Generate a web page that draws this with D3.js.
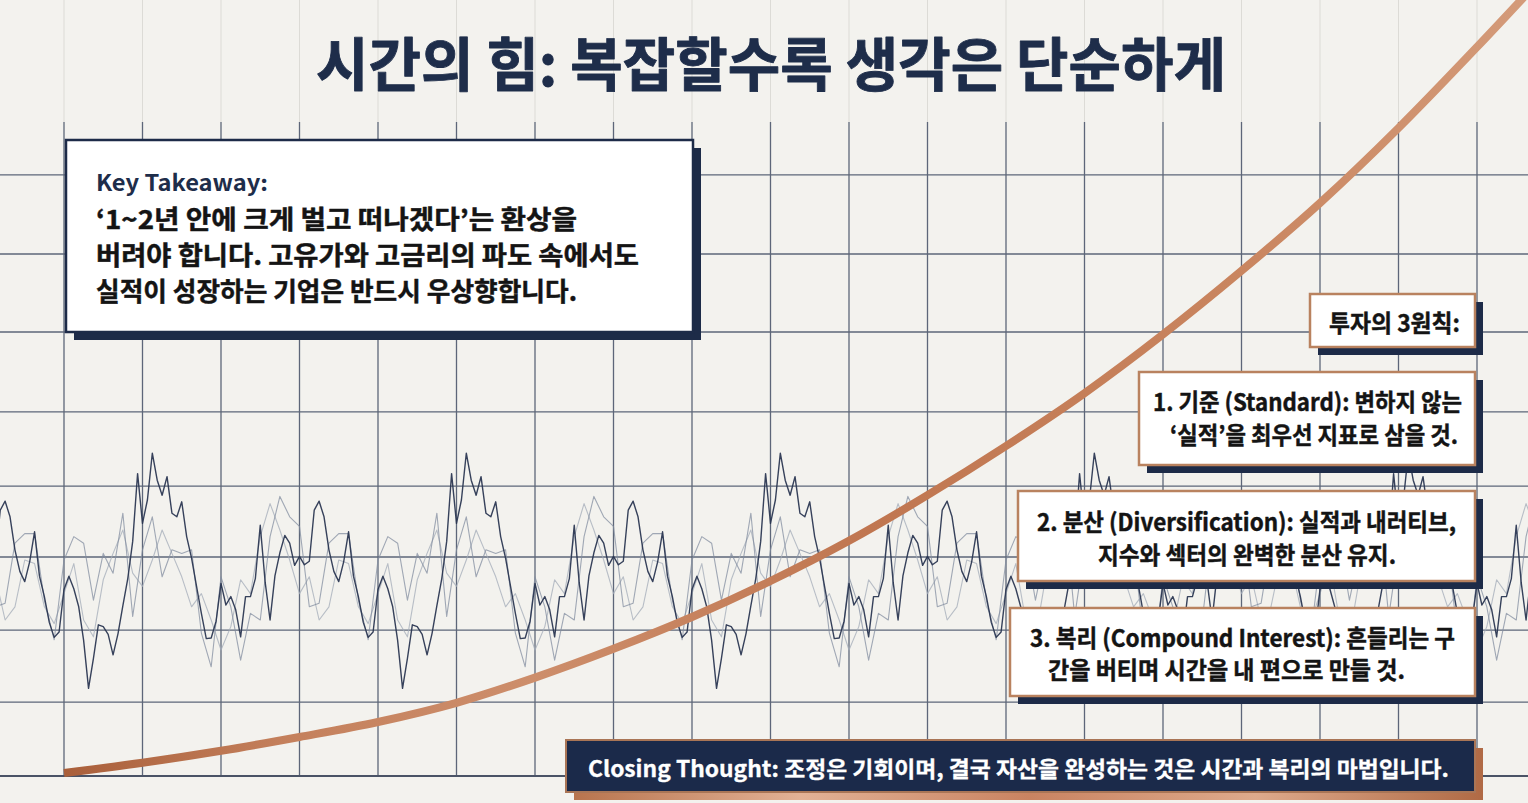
<!DOCTYPE html>
<html><head><meta charset="utf-8">
<script src="https://cdn.jsdelivr.net/npm/d3@7"></script>
<style>html,body{margin:0;padding:0;background:#f3f2ee;overflow:hidden}svg{display:block}</style>
</head><body>
<svg id="chart" width="1528" height="803"></svg>
<script>
// ---------------- DATA ----------------
const titleText = "시간의 힘: 복잡할수록 생각은 단순하게";
const keyHeading = "Key Takeaway:";
const keyLines = [
  "‘1~2년 안에 크게 벌고 떠나겠다’는 환상을",
  "버려야 합니다. 고유가와 고금리의 파도 속에서도",
  "실적이 성장하는 기업은 반드시 우상향합니다."
];
const principlesHeading = "투자의 3원칙:";
const principleLines = [
  ["1. 기준 (Standard): 변하지 않는", "‘실적’을 최우선 지표로 삼을 것."],
  ["2. 분산 (Diversification): 실적과 내러티브,", "지수와 섹터의 완벽한 분산 유지."],
  ["3. 복리 (Compound Interest): 흔들리는 구", "간을 버티며 시간을 내 편으로 만들 것."]
];
const closingText = "Closing Thought: 조정은 기회이며, 결국 자산을 완성하는 것은 시간과 복리의 마법입니다.";

// grid ticks (years on x, index level on y)
const gridYears = [0,1,2,3,4,5,6,7,8,9,10,11,12,13,14,15,16,17,18];
const gridLevels = [0, 12.3, 24.3, 36.5, 48.3, 60.7, 74.0, 87.0, 100.2];

// compound growth curve (year, value)
const curveYears = [0,1,2,3,4,5,6,7,8,9,10,11,12,13,14,15,16,17,18,19];
const curveValues = [0.5,2.2,4.2,6.5,9.0,12.2,16.4,21.2,26.5,32.5,39.2,46.8,55.0,63.8,73.6,84.2,95.5,108.0,121.5,135.5];

// volatile price series, sampled from year -0.875
const waveStartYear = -0.875;
const darkStep = 1/16;
const darkValues = [
35.8,44.3,45.8,43.2,37.7,34.1,32.4,35.7,40.7,33.3,29.9,25.6,23.1,24.0,
31.1,33.3,31.2,28.2,22.6,14.6,19.6,25.2,24.9,23.6,20.2,23.7,28.4,32.9,39.1,50.4,42.1,46.0,53.8,49.3,46.8,49.9,43.8,43.2,45.7,39.9,36.3,31.7,27.1,22.9,23.0,25.8,32.1,28.5,29.9,27.7,23.2,29.9,29.9,32.9,41.8,32.3,26.0,33.4,37.2,40.1,38.8,35.1,36.6,35.2,35.8,44.3,45.8,43.2,37.7,34.1,32.4,35.7,40.7,33.3,29.9,25.6,23.1,24.0,
31.1,33.3,31.2,28.2,22.6,14.6,19.6,25.2,24.9,23.6,20.2,23.7,28.4,32.9,39.1,50.4,42.1,46.0,53.8,49.3,46.8,49.9,43.8,43.2,45.7,39.9,36.3,31.7,27.1,22.9,23.0,25.8,32.1,28.5,29.9,27.7,23.2,29.9,29.9,32.9,41.8,32.3,26.0,33.4,37.2,40.1,38.8,35.1,36.6,35.2,35.8,44.3,45.8,43.2,37.7,34.1,32.4,35.7,40.7,33.3,29.9,25.6,23.1,24.0,
31.1,33.3,31.2,28.2,22.6,14.6,19.6,25.2,24.9,23.6,20.2,23.7,28.4,32.9,39.1,50.4,42.1,46.0,53.8,49.3,46.8,49.9,43.8,43.2,45.7,39.9,36.3,31.7,27.1,22.9,23.0,25.8,32.1,28.5,29.9,27.7,23.2,29.9,29.9,32.9,41.8,32.3,26.0,33.4,37.2,40.1,38.8,35.1,36.6,35.2,35.8,44.3,45.8,43.2,37.7,34.1,32.4,35.7,40.7,33.3,29.9,25.6,23.1,24.0,
31.1,33.3,31.2,28.2,22.6,14.6,19.6,25.2,24.9,23.6,20.2,23.7,28.4,32.9,39.1,50.4,42.1,46.0,53.8,49.3,46.8,49.9,43.8,43.2,45.7,39.9,36.3,31.7,27.1,22.9,23.0,25.8,32.1,28.5,29.9,27.7,23.2,29.9,29.9,32.9,41.8,32.3,26.0,33.4,37.2,40.1,38.8,35.1,36.6,35.2,35.8,44.3,45.8,43.2,37.7,34.1,32.4,35.7,40.7,33.3,29.9,25.6,23.1,24.0,
31.1,33.3,31.2,28.2,22.6,14.6,19.6,25.2,24.9,23.6,20.2,23.7,28.4,32.9,39.1,50.4,42.1,46.0,53.8,49.3,46.8,49.9,43.8,43.2,45.7,39.9,36.3,31.7,27.1,22.9,23.0,25.8,32.1,28.5,29.9,27.7,23.2,29.9,29.9,32.9,41.8,32.3,26.0,33.4,37.2
];
const grayStep = 1/8;
const midValues = [
28.2,28.8,38.8,40.4,40.4,29.3,22.7,
36.0,39.9,38.8,29.3,37.1,33.8,43.8,26.6,37.7,43.2,33.2,37.7,37.1,37.7,23.8,18.2,33.2,28.2,19.3,27.1,26.0,39.9,46.6,43.2,41.6,28.2,28.8,38.8,40.4,40.4,29.3,22.7,
36.0,39.9,38.8,29.3,37.1,33.8,43.8,26.6,37.7,43.2,33.2,37.7,37.1,37.7,23.8,18.2,33.2,28.2,19.3,27.1,26.0,39.9,46.6,43.2,41.6,28.2,28.8,38.8,40.4,40.4,29.3,22.7,
36.0,39.9,38.8,29.3,37.1,33.8,43.8,26.6,37.7,43.2,33.2,37.7,37.1,37.7,23.8,18.2,33.2,28.2,19.3,27.1,26.0,39.9,46.6,43.2,41.6,28.2,28.8,38.8,40.4,40.4,29.3,22.7,
36.0,39.9,38.8,29.3,37.1,33.8,43.8,26.6,37.7,43.2,33.2,37.7,37.1,37.7,23.8,18.2,33.2,28.2,19.3,27.1,26.0,39.9,46.6,43.2,41.6,28.2,28.8,38.8,40.4,40.4,29.3,22.7,
36.0,39.9,38.8,29.3,37.1,33.8,43.8,26.6,37.7,43.2,33.2,37.7,37.1,37.7,23.8,18.2,33.2,28.2,19.3,27.1,26.0,39.9,46.6
];
const lightValues = [
33.2,26.0,28.2,36.0,35.4,28.2,25.4,
30.4,35.4,26.0,23.2,32.7,37.1,41.0,33.8,31.6,36.0,41.0,37.1,33.2,28.2,30.4,26.0,21.0,24.9,32.7,30.4,39.9,45.4,41.0,36.0,30.4,33.2,26.0,28.2,36.0,35.4,28.2,25.4,
30.4,35.4,26.0,23.2,32.7,37.1,41.0,33.8,31.6,36.0,41.0,37.1,33.2,28.2,30.4,26.0,21.0,24.9,32.7,30.4,39.9,45.4,41.0,36.0,30.4,33.2,26.0,28.2,36.0,35.4,28.2,25.4,
30.4,35.4,26.0,23.2,32.7,37.1,41.0,33.8,31.6,36.0,41.0,37.1,33.2,28.2,30.4,26.0,21.0,24.9,32.7,30.4,39.9,45.4,41.0,36.0,30.4,33.2,26.0,28.2,36.0,35.4,28.2,25.4,
30.4,35.4,26.0,23.2,32.7,37.1,41.0,33.8,31.6,36.0,41.0,37.1,33.2,28.2,30.4,26.0,21.0,24.9,32.7,30.4,39.9,45.4,41.0,36.0,30.4,33.2,26.0,28.2,36.0,35.4,28.2,25.4,
30.4,35.4,26.0,23.2,32.7,37.1,41.0,33.8,31.6,36.0,41.0,37.1,33.2,28.2,30.4,26.0,21.0,24.9,32.7,30.4,39.9,45.4,41.0
];

// ---------------- LAYOUT ----------------
const W = 1528, H = 803;
const FONT = "'Noto Sans CJK KR','Noto Sans',sans-serif";
const NAVY = "#1d2b48", COPPER = "#b9825f";
const layout = {
  gridTop: 122,
  title: {x: 316, y: 86, size: 58, w: 910, stroke: 0.9},
  key: {x: 66, y: 140, w: 627, h: 192, hx: 96, hy: 191, hw: 172, hsize: 22,
        lx: 96, ly: [229, 265, 301], lw: [481, 543, 481], lsize: 26},
  head: {x: 1310, y: 294, w: 165, h: 53, tx: 1329, ty: 332, tw: 131, size: 24},
  boxes: [
    {x: 1139, y: 372, w: 336, h: 93, tx: [1153, 1170], ty: [411, 444], tw: [309, 288]},
    {x: 1018, y: 491, w: 457, h: 90, tx: [1037, 1098], ty: [531, 564], tw: [419, 298]},
    {x: 1010, y: 608, w: 465, h: 88, tx: [1030, 1048], ty: [647, 679], tw: [425, 357]}
  ],
  boxSize: 24,
  bodyStroke: 0.45,
  closing: {x: 566, y: 740, w: 909, h: 52, tx: 588, ty: 777, tw: 861, size: 22},
  shadow: 8
};

// ---------------- SCALES ----------------
const x = d3.scaleLinear().domain([0, 18]).range([64, 1477]);
const y = d3.scaleLinear().domain([0, 100]).range([776, 176]);

const svg = d3.select("#chart").attr("font-family", FONT);
const defs = svg.append("defs");

const cg = defs.append("linearGradient").attr("id", "copper").attr("gradientUnits", "userSpaceOnUse")
  .attr("x1", 64).attr("y1", 0).attr("x2", 1528).attr("y2", 0);
[[0, "#a95f3a"], [0.15, "#c4805c"], [0.32, "#cd8e6b"], [0.55, "#c07650"], [0.8, "#c9855f"], [1, "#d49b7a"]]
  .forEach(([o, c]) => cg.append("stop").attr("offset", o).attr("stop-color", c));

const sg = defs.append("linearGradient").attr("id", "copperShadow").attr("x1", 0).attr("y1", 0).attr("x2", 1).attr("y2", 0);
[[0, "#b8744e"], [0.25, "#e3b296"], [0.5, "#c98361"], [0.75, "#deaa8c"], [1, "#b06a45"]]
  .forEach(([o, c]) => sg.append("stop").attr("offset", o).attr("stop-color", c));

svg.append("rect").attr("width", W).attr("height", H).attr("fill", "#f3f2ee");

// faint verticals above grid
svg.append("g").selectAll("line").data(gridYears).join("line")
  .attr("x1", d => x(d)).attr("x2", d => x(d)).attr("y1", 0).attr("y2", layout.gridTop)
  .attr("stroke", "#dcdbd6").attr("stroke-width", 1);

// grid
const grid = svg.append("g");
grid.selectAll("line.v").data(gridYears).join("line").attr("class", "v")
  .attr("x1", d => x(d)).attr("x2", d => x(d)).attr("y1", layout.gridTop).attr("y2", y(0))
  .attr("stroke", "#5d6679").attr("stroke-width", 1.3);
grid.selectAll("line.h").data(gridLevels).join("line").attr("class", "h")
  .attr("x1", 0).attr("x2", W).attr("y1", d => y(d)).attr("y2", d => y(d))
  .attr("stroke", d => d === 0 ? "#4a5366" : "#5d6679").attr("stroke-width", d => d === 0 ? 2 : 1.3);

// waves
function wave(values, step, color, width, opacity) {
  const line = d3.line().x((d, i) => x(waveStartYear + i * step)).y(d => y(d));
  svg.append("path").datum(values).attr("d", line).attr("fill", "none")
    .attr("stroke", color).attr("stroke-width", width).attr("stroke-opacity", opacity)
    .attr("stroke-linejoin", "round");
}
wave(lightValues, grayStep, "#a3abb8", 1.1, 0.75);
wave(midValues, grayStep, "#838da0", 1.1, 0.75);
wave(darkValues, darkStep, "#2b3752", 1.4, 0.95);

// compound curve
const curveLine = d3.line().x(d => x(d[0])).y(d => y(d[1])).curve(d3.curveMonotoneX);
svg.append("path").datum(curveYears.map((t, i) => [t, curveValues[i]]))
  .attr("d", curveLine).attr("fill", "none").attr("stroke", "url(#copper)")
  .attr("stroke-width", 8).attr("stroke-linecap", "butt");

// text helper
function txt(g, s, tx, ty, size, weight, fill, width, sw) {
  const t = g.append("text").attr("x", tx).attr("y", ty).attr("font-size", size)
    .attr("font-weight", weight).attr("fill", fill)
    .attr("textLength", width).attr("lengthAdjust", "spacingAndGlyphs").text(s);
  if (sw) t.attr("stroke", fill).attr("stroke-width", sw).attr("stroke-linejoin", "round");
  return t;
}
function box(b, stroke, sw, shadowFill, fill) {
  const g = svg.append("g");
  g.append("rect").attr("x", b.x + layout.shadow).attr("y", b.y + layout.shadow)
    .attr("width", b.w).attr("height", b.h).attr("fill", shadowFill);
  g.append("rect").attr("x", b.x).attr("y", b.y).attr("width", b.w).attr("height", b.h)
    .attr("fill", fill).attr("stroke", stroke).attr("stroke-width", sw);
  return g;
}

// title
txt(svg, titleText, layout.title.x, layout.title.y, layout.title.size, 700, "#1e2d4a", layout.title.w, layout.title.stroke);

// key takeaway
const k = layout.key;
const kg = box(k, NAVY, 2.5, NAVY, "#ffffff");
txt(kg, keyHeading, k.hx, k.hy, k.hsize, 600, "#1e2d4a", k.hw);
keyLines.forEach((s, i) => txt(kg, s, k.lx, k.ly[i], k.lsize, 700, "#141414", k.lw[i], layout.bodyStroke));

// principles
const h = layout.head;
const hg = box(h, COPPER, 2.5, NAVY, "#ffffff");
txt(hg, principlesHeading, h.tx, h.ty, h.size, 700, "#141414", h.tw, layout.bodyStroke);
layout.boxes.forEach((b, i) => {
  const g = box(b, COPPER, 2.5, NAVY, "#ffffff");
  principleLines[i].forEach((s, j) => txt(g, s, b.tx[j], b.ty[j], layout.boxSize, 700, "#141414", b.tw[j], layout.bodyStroke));
});

// closing
const c = layout.closing;
const cgp = box(c, "#a97556", 2, "url(#copperShadow)", "#1b2a4a");
txt(cgp, closingText, c.tx, c.ty, c.size, 700, "#ffffff", c.tw, 0.3);
</script>
</body></html>
